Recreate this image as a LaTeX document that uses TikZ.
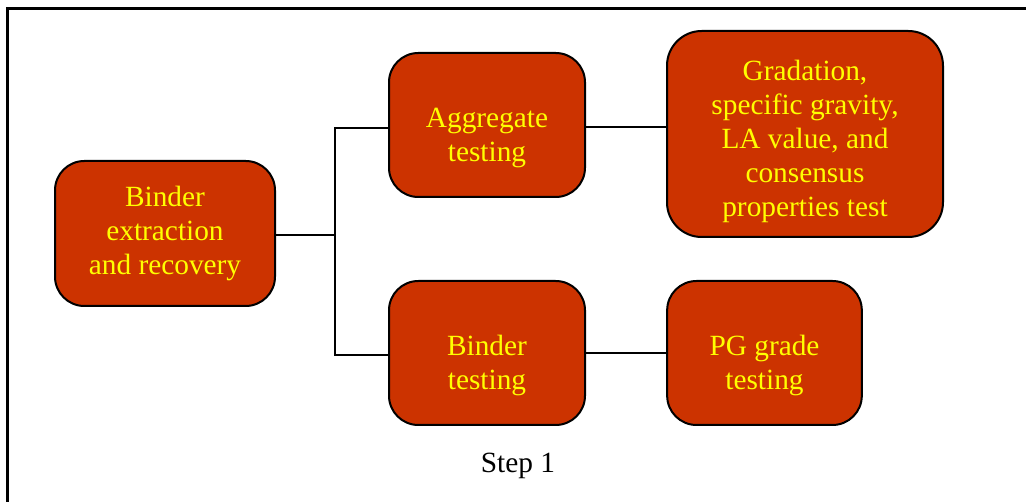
\documentclass[tikz,border=0pt]{standalone}
\usepackage{fontspec}
\setmainfont{Liberation Serif}
\definecolor{boxred}{HTML}{CC3300}
\definecolor{txtyellow}{HTML}{FFFF00}
\newcommand{\lowtxt}[2]{\raisebox{#1}[0pt][0pt]{\begin{tabular}{@{}c@{}}#2\end{tabular}}}
\tikzset{
  stepbox/.style={draw=black, line width=1.5pt, fill=boxred, rounded corners=22pt,
    text=txtyellow, align=center, inner sep=0pt,
    font=\fontsize{22}{25.6}\selectfont},
  conn/.style={draw=black, line width=1.8pt}
}
\begin{document}
\begin{tikzpicture}[x=0.75pt,y=-0.75pt]
\clip (0,0) rectangle (1026,502);
\useasboundingbox (0,0) rectangle (1026,502);
\draw[line width=2.25pt] (7,9) rectangle (1060,540);
\node[stepbox, minimum width=165pt, minimum height=108.75pt] (ext) at (165,233.5) {Binder\\extraction\\and recovery};
\node[stepbox, minimum width=147pt, minimum height=108pt] (agg) at (487,125) {\lowtxt{-15pt}{Aggregate\\testing}};
\node[stepbox, minimum width=207pt, minimum height=154.5pt, rounded corners=26pt] (grad) at (805,134) {\lowtxt{-11pt}{Gradation,\\specific gravity,\\LA value, and\\consensus\\properties test}};
\node[stepbox, minimum width=147pt, minimum height=108pt] (bin) at (487,353) {\lowtxt{-15pt}{Binder\\testing}};
\node[stepbox, minimum width=146pt, minimum height=108pt] (pg) at (764.5,353) {\lowtxt{-15pt}{PG grade\\testing}};
\coordinate (j) at (335,235);
\draw[conn, line width=1.3pt] (ext.east |- j) -- (j);
\draw[conn] ([yshift=-2.25pt]agg.west) -| (j) |- ([yshift=-1.5pt]bin.west);
\draw[conn] ([yshift=-1.5pt]agg.east) -- ([yshift=-1.5pt]grad.west |- agg.east);
\draw[conn] (bin.east) -- (pg.west);
\node[font=\fontsize{22}{25.6}\selectfont, inner sep=0pt] (step) at (518,466) {Step 1};
\end{tikzpicture}
\end{document}
